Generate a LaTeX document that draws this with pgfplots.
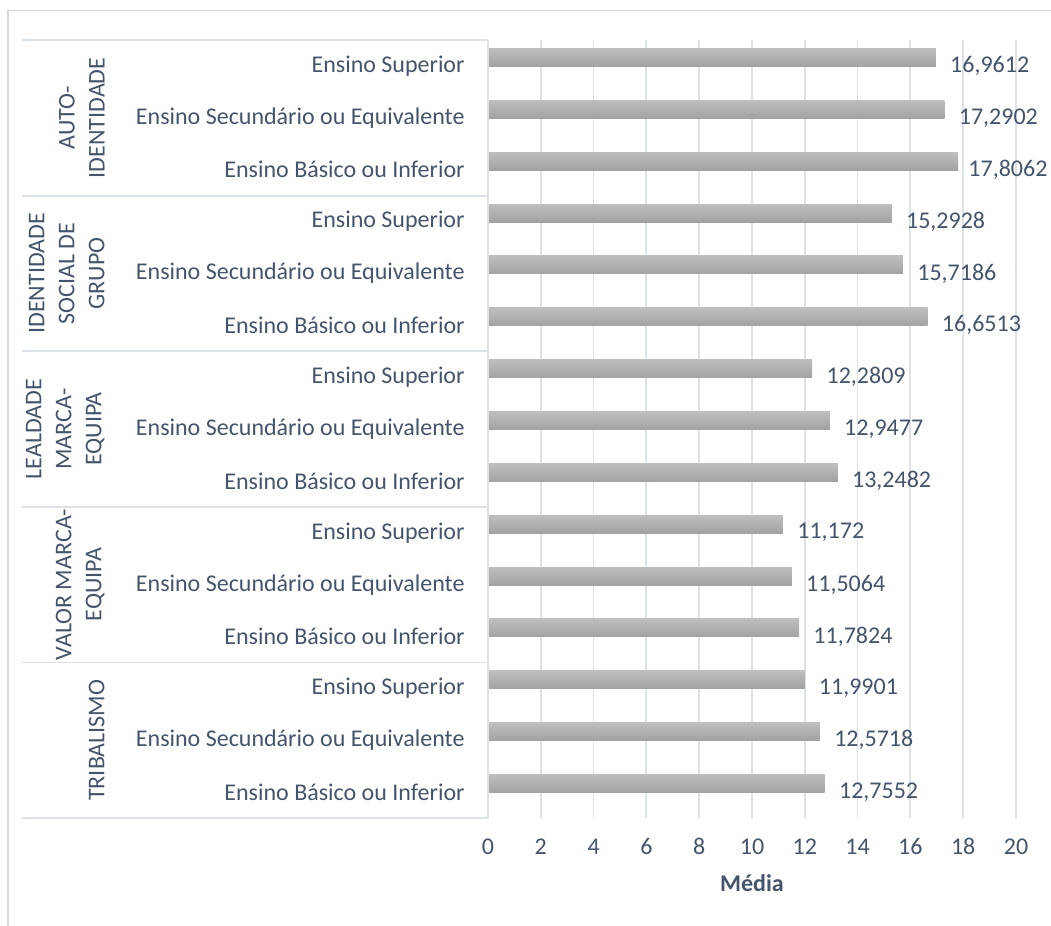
\documentclass[border=0pt]{standalone}
\usepackage{fontspec}
\setmainfont{Carlito}
\usepackage{pgfplots}
\pgfplotsset{compat=1.18}
\definecolor{txt}{HTML}{44546A}
\definecolor{gridc}{HTML}{DDE2E9}
\definecolor{framec}{HTML}{D9D9D9}
\definecolor{barT}{HTML}{BEBEBE}
\definecolor{barB}{HTML}{A2A2A2}

\pgfplotsset{
  meanbar/.style={xbar, bar width=9pt, bar shift=4.25pt, draw=none,
    top color=barT, bottom color=barB,
    nodes near coords={\pgfmathprintnumber[fixed,precision=4,use comma,assume math mode=true]{\pgfplotspointmeta}},
    every node near coord/.append style={anchor=west, inner sep=0pt, xshift=#1, text=txt}},
  meanbar/.default=7pt,
}

\begin{document}
\begin{tikzpicture}[font=\fontsize{12pt}{15pt}\selectfont]
\begin{axis}[
  at={(244pt,-409pt)}, anchor=south west,
  width=264pt, height=389pt, scale only axis,
  xmin=0, xmax=20, ymin=-0.5, ymax=14.5,
  xtick={0,2,...,20},
  ytick={0,...,14},
  yticklabels={
    Ensino Básico ou Inferior, Ensino Secundário ou Equivalente, Ensino Superior,
    Ensino Básico ou Inferior, Ensino Secundário ou Equivalente, Ensino Superior,
    Ensino Básico ou Inferior, Ensino Secundário ou Equivalente, Ensino Superior,
    Ensino Básico ou Inferior, Ensino Secundário ou Equivalente, Ensino Superior,
    Ensino Básico ou Inferior, Ensino Secundário ou Equivalente, Ensino Superior},
  major tick length=0pt,
  xmajorgrids, grid style={gridc, line width=0.9pt},
  axis line style={draw=none},
  /pgf/number format/assume math mode=true,
  tick label style={text=txt},
  xticklabel style={anchor=base, inner sep=0pt, yshift=-18pt},
  yticklabel style={anchor=east, inner sep=0pt, xshift=-11.5pt},
  xlabel={\textbf{Média}},
  xlabel style={at={(rel axis cs:0.5,0)}, anchor=north, inner sep=0pt, yshift=-28pt, text=txt},
  clip=false,
]
% TRIBALISMO
\addplot[meanbar] coordinates {(12.7552,0)};
\addplot[meanbar] coordinates {(12.5718,1)};
\addplot[meanbar] coordinates {(11.9901,2)};
% VALOR MARCA-EQUIPA
\addplot[meanbar] coordinates {(11.7824,3)};
\addplot[meanbar] coordinates {(11.5064,4)};
\addplot[meanbar] coordinates {(11.172,5)};
% LEALDADE MARCA-EQUIPA
\addplot[meanbar] coordinates {(13.2482,6)};
\addplot[meanbar] coordinates {(12.9477,7)};
\addplot[meanbar] coordinates {(12.2809,8)};
% IDENTIDADE SOCIAL DE GRUPO
\addplot[meanbar] coordinates {(16.6513,9)};
\addplot[meanbar] coordinates {(15.7186,10)};
\addplot[meanbar] coordinates {(15.2928,11)};
% AUTO-IDENTIDADE
\addplot[meanbar=5pt] coordinates {(17.8062,12)};
\addplot[meanbar] coordinates {(17.2902,13)};
\addplot[meanbar] coordinates {(16.9612,14)};
% category axis line and group separators
\draw[gridc, line width=0.9pt] (rel axis cs:0,0) -- (rel axis cs:0,1);
\pgfplotsinvokeforeach{-0.5,2.5,5.5,8.5,11.5,14.5}{
  \draw[gridc, line width=0.9pt] (axis cs:0,#1) -- ([xshift=-233pt]axis cs:0,#1);
}
% group names
\tikzset{grp/.style={rotate=90, anchor=south, align=center, inner sep=0pt, text=txt}}
\node[grp] at ([xshift=-191.5pt]axis cs:0,13) {AUTO-\\IDENTIDADE};
\node[grp] at ([xshift=-191.5pt]axis cs:0,10) {IDENTIDADE\\SOCIAL DE\\GRUPO};
\node[grp] at ([xshift=-191.5pt]axis cs:0,7) {LEALDADE\\MARCA-\\EQUIPA};
\node[grp] at ([xshift=-191.5pt]axis cs:0,4) {VALOR MARCA-\\EQUIPA};
\node[grp] at ([xshift=-191.5pt]axis cs:0,1) {TRIBALISMO};
\end{axis}
% chart frame
\draw[framec, line width=0.75pt] (4pt,-463pt) -- (4pt,-5.25pt) -- (526pt,-5.25pt);
\pgfresetboundingbox
\path[use as bounding box] (0,0) rectangle (525.5pt,-463pt);
\end{tikzpicture}
\end{document}
